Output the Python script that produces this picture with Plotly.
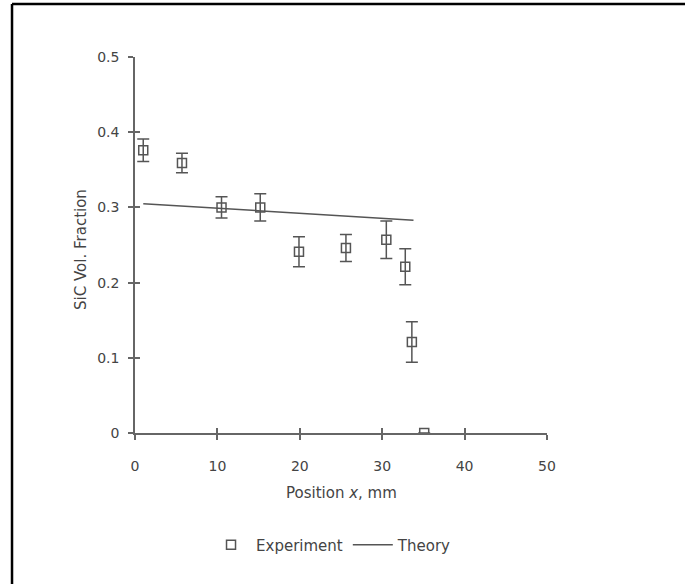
import plotly.graph_objects as go

# Measured SiC volume fraction along the specimen
exp_x = [1.0, 5.7, 10.5, 15.2, 19.9, 25.6, 30.5, 32.8, 33.6, 35.1]
exp_y = [0.376, 0.359, 0.300, 0.300, 0.241, 0.246, 0.257, 0.221, 0.121, 0.0]
exp_err = [0.015, 0.013, 0.014, 0.018, 0.020, 0.018, 0.025, 0.024, 0.027, 0.0]

# Model prediction
theory_x = [1.0, 33.8]
theory_y = [0.305, 0.283]

x_ticks = [0, 10, 20, 30, 40, 50]
y_ticks = [0, 0.1, 0.2, 0.3, 0.4, 0.5]
y_tick_text = ["0", "0.1", "0.2", "0.3", "0.4", "0.5"]

ink = "#555555"
axis_col = "#666666"
text_col = "#444444"
family = "DejaVu Sans, Arial, sans-serif"

fig = go.Figure()
fig.add_trace(go.Scatter(
    x=exp_x, y=exp_y, mode="markers", name="Experiment",
    marker=dict(symbol="square-open", size=9, color=ink, line=dict(width=1.5, color=ink)),
    error_y=dict(type="data", array=exp_err, visible=True, color=ink, thickness=1.5, width=6),
))
fig.add_trace(go.Scatter(
    x=theory_x, y=theory_y, mode="lines", name="Theory",
    line=dict(color=ink, width=1.5),
))

# Inside-tick copies so the tick marks cross the axis lines
fig.add_trace(go.Scatter(x=[None], y=[None], xaxis="x2", yaxis="y2", showlegend=False))

axis_common = dict(showgrid=False, zeroline=False, showline=True, linecolor=axis_col,
                   linewidth=1.5, tickcolor=axis_col, tickwidth=1.5, ticklen=5)

fig.update_layout(
    width=685, height=584,
    margin=dict(l=135, r=138, t=57, b=151),
    paper_bgcolor="white", plot_bgcolor="white",
    font=dict(family=family, size=14, color=text_col),
    showlegend=True,
    legend=dict(orientation="h", x=0.477, xanchor="center", y=-0.298, yanchor="middle",
                font=dict(size=15, color=text_col), bgcolor="rgba(0,0,0,0)",
                itemwidth=40),
    xaxis=dict(range=[0, 50], tickvals=x_ticks, ticks="outside", ticklabelstandoff=14,
               **axis_common),
    yaxis=dict(range=[0, 0.5], tickvals=y_ticks, ticktext=y_tick_text, ticks="outside",
               ticklabelstandoff=6, **axis_common),
    xaxis2=dict(range=[0, 50], tickvals=x_ticks, ticks="inside", overlaying="x",
                showticklabels=False, **axis_common),
    yaxis2=dict(range=[0, 0.5], tickvals=y_ticks, ticks="inside", overlaying="y",
                showticklabels=False, **axis_common),
    annotations=[
        dict(text="Position <i>x</i>, mm", xref="paper", yref="paper", x=0.5, y=-0.160,
             xanchor="center", yanchor="middle", showarrow=False,
             font=dict(size=15, color=text_col)),
        dict(text="SiC Vol. Fraction", xref="paper", yref="paper", x=-0.131, y=0.487,
             xanchor="center", yanchor="middle", textangle=-90, showarrow=False,
             font=dict(size=15, color=text_col)),
    ],
)

# Frame lines along the left and top edges of the figure
fig.add_shape(type="line", xref="paper", yref="paper", x0=-0.2985, x1=-0.2985,
              y0=1.141, y1=-0.45, line=dict(color="black", width=2.5))
fig.add_shape(type="line", xref="paper", yref="paper", x0=-0.2985, x1=1.4,
              y0=1.141, y1=1.141, line=dict(color="black", width=2.5))

fig.write_html("out.html")
